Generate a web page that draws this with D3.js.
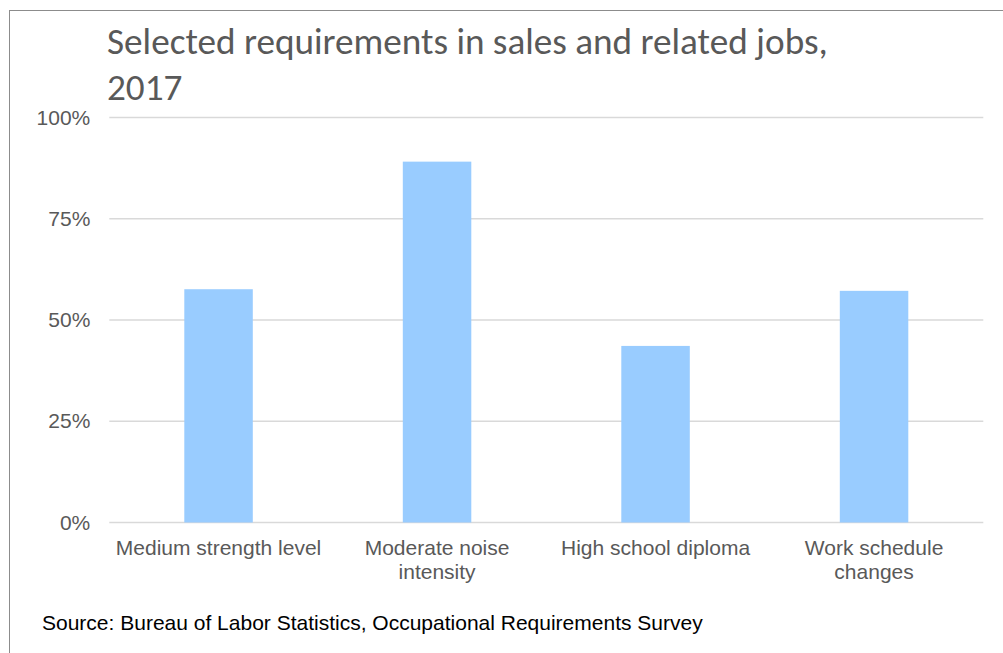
<!DOCTYPE html>
<html>
<head>
<meta charset="utf-8">
<script src="https://cdn.jsdelivr.net/npm/d3@7/dist/d3.min.js"></script>
<style>
  html, body { margin: 0; padding: 0; background: #fff; }
  svg { display: block; }
</style>
</head>
<body>
<svg id="chart" width="1003" height="653"></svg>
<script>
// Share of sales and related jobs with each requirement, 2017 (percent)
const categories = [
  "Medium strength level",
  "Moderate noise intensity",
  "High school diploma",
  "Work schedule changes"
];
const values = [57.6, 89.1, 43.6, 57.2];
const tickValues = [0, 25, 50, 75, 100];
const tickLabels = ["0%", "25%", "50%", "75%", "100%"];
const titleLines = ["Selected requirements in sales and related jobs,", "2017"];
const sourceText = "Source: Bureau of Labor Statistics, Occupational Requirements Survey";

const svg = d3.select("#chart");
const W = 1003, H = 653;
const plot = { left: 109.3, right: 983.3, top: 117.5, bottom: 522.5 };

svg.append("rect").attr("width", W).attr("height", H).attr("fill", "#fff");

// outer frame (only left and top edges fall inside the view)
svg.append("rect")
  .attr("x", 9.5).attr("y", 10.5)
  .attr("width", W + 20).attr("height", H + 20)
  .attr("fill", "none").attr("stroke", "#8c8c8c").attr("stroke-width", 1);

const x = d3.scaleBand()
  .domain(categories)
  .range([plot.left, plot.right])
  .paddingInner(0.6865)
  .paddingOuter(0.6865 / 2);

const y = d3.scaleLinear().domain([0, 100]).range([plot.bottom, plot.top]);

// gridlines
svg.append("g")
  .selectAll("line")
  .data(tickValues)
  .join("line")
  .attr("x1", plot.left).attr("x2", plot.right)
  .attr("y1", d => y(d)).attr("y2", d => y(d))
  .attr("stroke", "#d9d9d9").attr("stroke-width", 1.5);

// y axis labels
const yAxis = svg.append("g")
  .attr("transform", `translate(${plot.left},0)`)
  .call(d3.axisLeft(y).tickValues(tickValues)
    .tickFormat((d, i) => tickLabels[i]).tickSize(0).tickPadding(19));
yAxis.select(".domain").remove();
yAxis.selectAll("text")
  .attr("font-family", "'Liberation Sans', Arial, sans-serif")
  .attr("font-size", 21).attr("fill", "#595959");

// bars
svg.append("g")
  .selectAll("rect")
  .data(values)
  .join("rect")
  .attr("x", (d, i) => x(categories[i]))
  .attr("width", x.bandwidth())
  .attr("y", d => y(d))
  .attr("height", d => y(0) - y(d))
  .attr("fill", "#99ccff");

// x axis labels, wrapped to the category width
const xAxis = svg.append("g")
  .attr("transform", `translate(0,${plot.bottom})`)
  .call(d3.axisBottom(x).tickSize(0));
xAxis.select(".domain").remove();
xAxis.selectAll("text")
  .attr("font-family", "'Liberation Sans', Arial, sans-serif")
  .attr("font-size", 21).attr("fill", "#595959")
  .attr("y", 32.5).attr("dy", 0)
  .each(function (d) {
    const t = d3.select(this);
    const words = d.split(" ");
    t.text(null);
    let line = [];
    let lineNo = 0;
    let tspan = t.append("tspan").attr("x", 0).attr("y", 32.5);
    words.forEach(w => {
      line.push(w);
      tspan.text(line.join(" "));
      if (tspan.node().getComputedTextLength() > 212 && line.length > 1) {
        line.pop();
        tspan.text(line.join(" "));
        line = [w];
        lineNo += 1;
        tspan = t.append("tspan").attr("x", 0).attr("y", 32.5 + lineNo * 24).text(w);
      }
    });
  });

// title
const title = svg.append("text")
  .attr("font-family", "Carlito, 'Open Sans', sans-serif")
  .attr("fill", "#595959");
titleLines.forEach((l, i) => {
  title.append("tspan").attr("x", 107).attr("y", 54 + i * 46).text(l);
});
title.attr("font-size", 32);
const firstW = title.select("tspan").node().getComputedTextLength();
title.attr("font-size", 32 * 721 / firstW);

// source note
svg.append("text")
  .attr("x", 42).attr("y", 630)
  .attr("font-family", "'Liberation Sans', Arial, sans-serif")
  .attr("font-size", 21).attr("fill", "#000")
  .text(sourceText);
</script>
</body>
</html>
